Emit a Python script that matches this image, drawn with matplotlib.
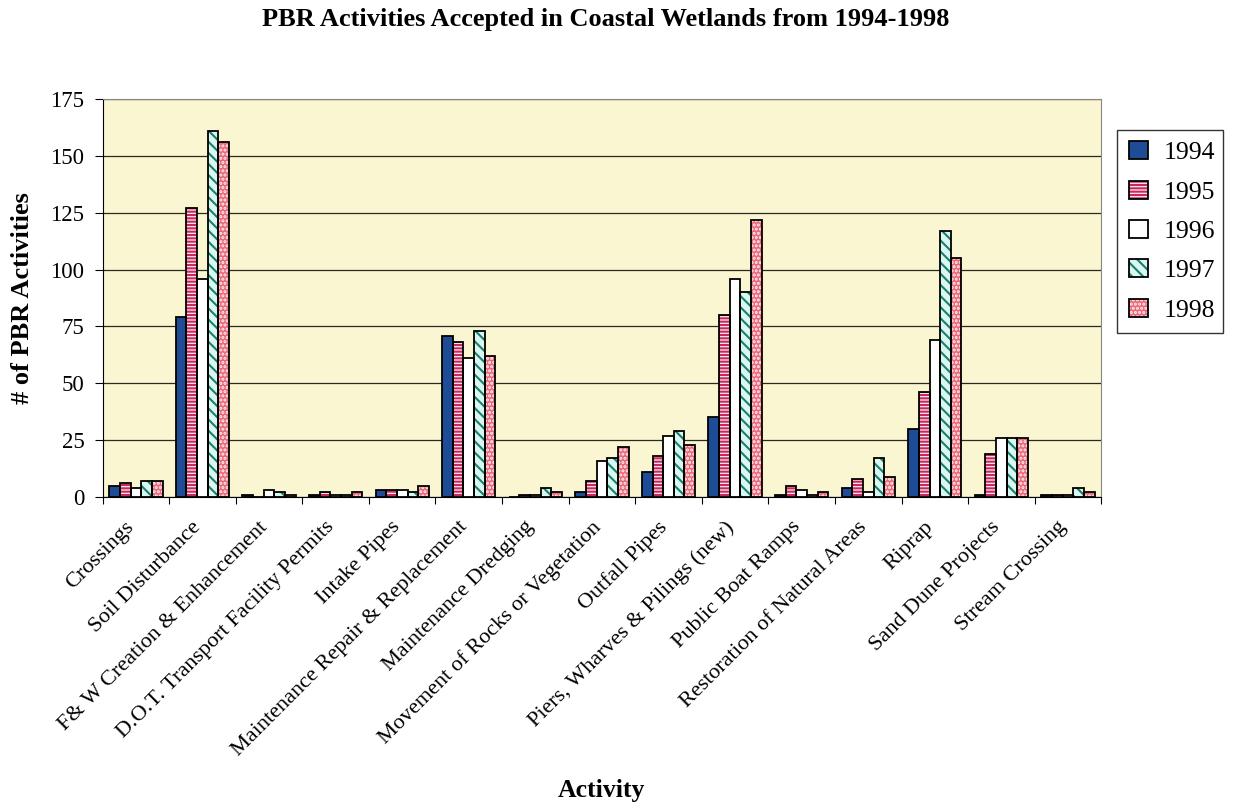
import numpy as np
import matplotlib
matplotlib.use("Agg")
import matplotlib.pyplot as plt
import matplotlib.transforms as mtransforms
from matplotlib.patches import Patch

plt.rcParams['font.family'] = ['Liberation Serif', 'DejaVu Serif']
plt.rcParams['hatch.linewidth'] = 1.5

# Activity categories and yearly counts
activities = ["Crossings", "Soil Disturbance", "F& W Creation & Enhancement",
              "D.O.T. Transport Facility Permits", "Intake Pipes",
              "Maintenance Repair & Replacement", "Maintenance Dredging",
              "Movement of Rocks or Vegetation", "Outfall Pipes",
              "Piers, Wharves & Pilings (new)", "Public Boat Ramps",
              "Restoration of Natural Areas", "Riprap", "Sand Dune Projects",
              "Stream Crossing"]
years = ["1994", "1995", "1996", "1997", "1998"]
y1994 = [5, 79, 1, 1, 3, 71, 0, 2, 11, 35, 1, 4, 30, 1, 1]
y1995 = [6, 127, 0, 2, 3, 68, 1, 7, 18, 80, 5, 8, 46, 19, 1]
y1996 = [4, 96, 3, 1, 3, 61, 1, 16, 27, 96, 3, 2, 69, 26, 1]
y1997 = [7, 161, 2, 1, 2, 73, 4, 17, 29, 90, 1, 17, 117, 26, 4]
y1998 = [7, 156, 1, 2, 5, 62, 2, 22, 23, 122, 2, 9, 105, 26, 2]
series = [y1994, y1995, y1996, y1997, y1998]

# (face colour, hatch pattern, hatch colour) per year
styles = [
    ("#1f4c96", None, "#1f4c96"),
    ("#fbeaf0", "-----", "#c8285e"),
    ("#ffffff", None, "#ffffff"),
    ("#d9f6f0", "\\\\\\", "#19806e"),
    ("#e9687a", "....", "#fff0f0"),
]

fig = plt.figure(figsize=(12.36, 8.05), dpi=100)
ax = fig.add_axes([0.083, 0.3826, 0.808, 0.4944])
ax.set_facecolor("#faf6d2")

n = len(activities)
x = np.arange(n) + 0.5
width = 0.16
handles = []
for k, (vals, (fc, hatch, hc)) in enumerate(zip(series, styles)):
    pos = x - 0.4 + width * (k + 0.5)
    ax.bar(pos, vals, width, color=fc, hatch=hatch, edgecolor=hc,
           linewidth=0, zorder=3)
    ax.bar(pos, vals, width, facecolor="none", edgecolor="black",
           linewidth=1.3, zorder=4)
    handles.append((Patch(facecolor=fc, hatch=hatch, edgecolor=hc, linewidth=0),
                    Patch(facecolor="none", edgecolor="black", linewidth=1.3)))

ax.set_xlim(0, n)
ax.set_ylim(0, 175)
ax.set_yticks(np.arange(0, 176, 25))
ax.yaxis.grid(True, color="#2a2a20", linewidth=0.9, zorder=0)
ax.set_axisbelow(True)

ax.set_xticks(x)
ax.set_xticklabels(activities, rotation=45, ha="right", rotation_mode="anchor",
                   fontsize=16)
ax.set_xticks(np.arange(0, n + 1), minor=True)
ax.tick_params(axis="x", which="major", length=0, pad=9)
ax.tick_params(axis="x", which="minor", length=5, direction="out", width=0.8)
ax.tick_params(axis="y", length=6, direction="out", width=0.8, labelsize=16.5,
               pad=7)
# nudge the slanted labels so their ends sit just left of each category
shift = mtransforms.ScaledTranslation(-0.11, -0.08, fig.dpi_scale_trans)
for lbl in ax.get_xticklabels():
    lbl.set_transform(lbl.get_transform() + shift)

for side in ["top", "right"]:
    ax.spines[side].set_color("#888888")
for side in ["left", "bottom"]:
    ax.spines[side].set_color("black")

ax.set_ylabel("# of PBR Activities", fontsize=19, fontweight="bold", labelpad=12)
fig.text(0.487, 0.004, "Activity", ha="center", va="bottom", fontsize=18.5,
         fontweight="bold")
fig.text(0.49, 0.976, "PBR Activities Accepted in Coastal Wetlands from 1994-1998",
         ha="center", va="center", fontsize=19, fontweight="bold")

leg = fig.legend(handles, years, loc="upper left",
                 bbox_to_anchor=(0.904, 0.839), fontsize=18.5, frameon=True,
                 fancybox=False, edgecolor="black", handlelength=0.75,
                 handleheight=0.7, handletextpad=0.45, labelspacing=0.64,
                 borderpad=0.45, borderaxespad=0)
leg._legend_box.sep = 4
leg.get_frame().set_linewidth(1.0)
for t in leg.get_texts():
    t.set_x(4)

fig.savefig("out.png", dpi=100)
